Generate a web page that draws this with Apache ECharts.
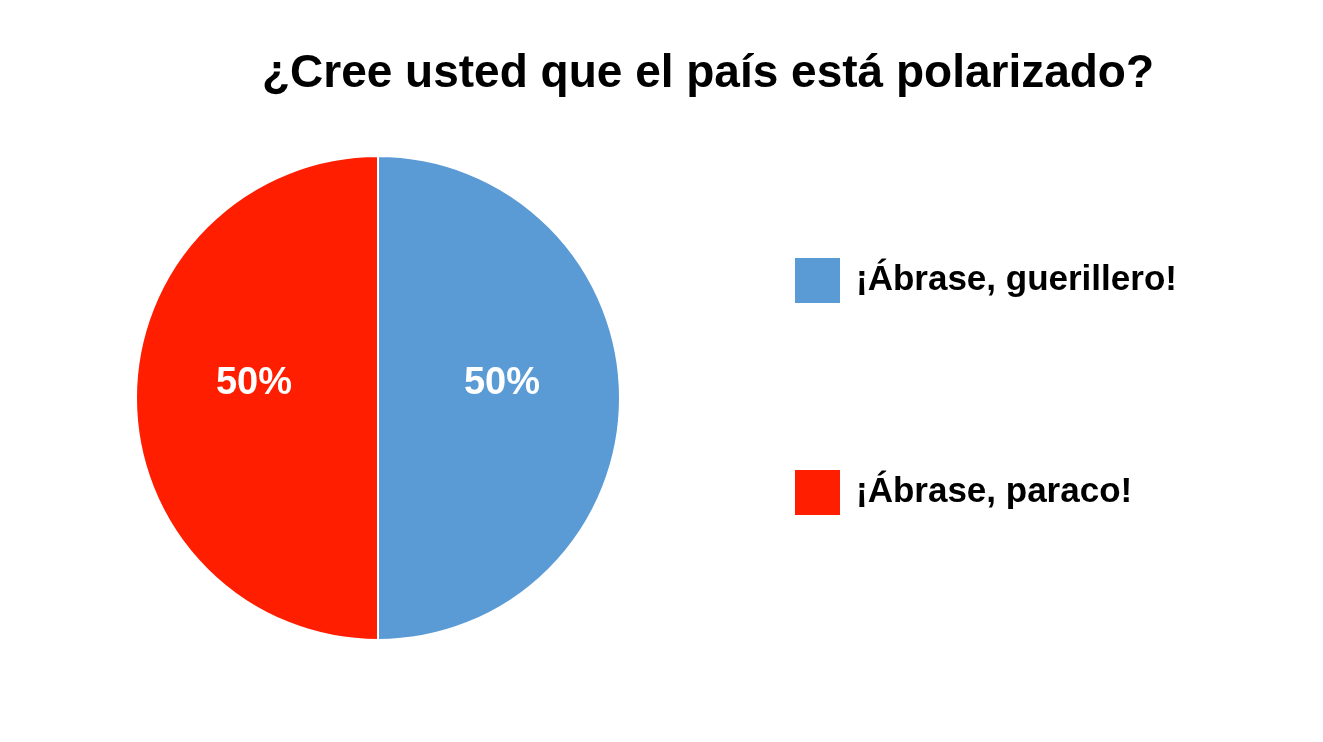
<!DOCTYPE html>
<html><head><meta charset="utf-8">
<script src="https://cdn.jsdelivr.net/npm/echarts@6/dist/echarts.min.js"></script>
<style>html,body{margin:0;padding:0;background:#fff}#c{width:1323px;height:742px}</style>
</head><body><div id="c"></div>
<script>
const categories = ['¡Ábrase, guerillero!', '¡Ábrase, paraco!'];
const values = [50, 50];
const colors = ['#5B9BD5', '#FF1E00'];
const chart = echarts.init(document.getElementById('c'));
chart.setOption({
  animation: false,
  title: { text: '¿Cree usted que el país está polarizado?', left: 703, top: 46, textAlign: 'center',
    textStyle: { fontFamily: 'Liberation Sans', fontWeight: 'bold', fontSize: 46, color: '#000' } },
  legend: { orient: 'vertical', left: 788, top: 251, itemWidth: 47, itemHeight: 47, itemGap: 163,
    icon: 'rect', data: categories,
    textStyle: { fontFamily: 'Liberation Sans', fontWeight: 'bold', fontSize: 35, color: '#000', padding: [0,0,0,10] } },
  series: [{
    type: 'pie', center: [378, 398], radius: 242, startAngle: 90, clockwise: true,
    data: categories.map((n, i) => ({ name: n, value: values[i], itemStyle: { color: colors[i] } })),
    itemStyle: { borderColor: '#fff', borderWidth: 2 },
    label: { position: 'inner', formatter: '{d}%', color: '#fff', fontFamily: 'Liberation Sans', fontWeight: 'bold', fontSize: 38 },
    labelLayout: { dy: -14 },
    labelLine: { show: false }
  }]
});
</script></body></html>
